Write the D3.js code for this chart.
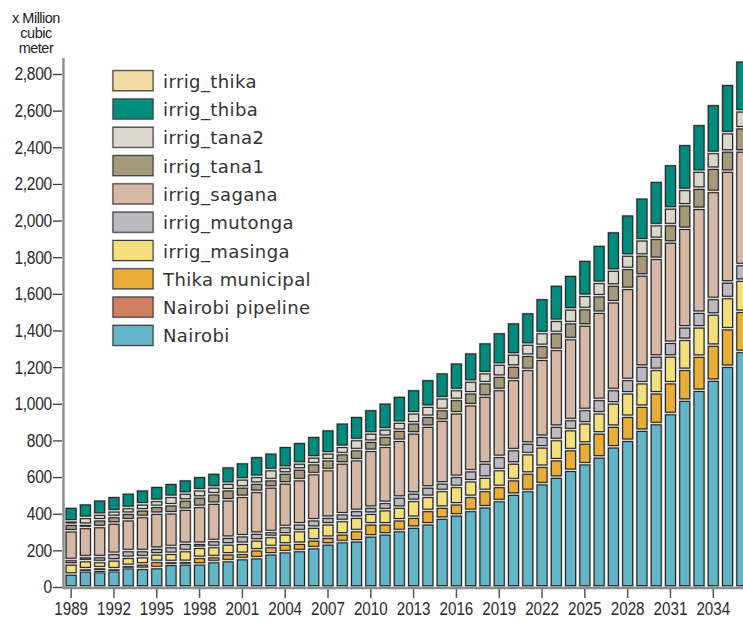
<!DOCTYPE html>
<html><head><meta charset="utf-8">
<script src="https://cdn.jsdelivr.net/npm/d3@7"></script>
<style>body{margin:0;background:#fff} svg{display:block}</style>
</head><body><svg id="c" width="743" height="627"></svg>
<script>
const years = d3.range(1989, 2037);
const nairobi = [71,88,84,89,106,102,106,124,126,126,139,144,155,160,181,193,199,215,235,248,252,279,290,308,327,345,376,394,418,438,472,507,527,564,600,637,673,710,765,801,856,892,947,1020,1074,1129,1205,1286];
const nairobiPipeline = [0,0,8,0,0,0,0,0,0,0,0,0,0,0,0,0,0,0,0,0,0,0,0,0,0,0,0,0,0,0,0,0,0,0,0,0,0,0,0,0,0,0,0,0,0,0,0,0];
const thikaMunicipal = [0,12,14,11,12,24,34,15,14,36,27,37,29,43,40,42,40,42,37,42,56,66,55,59,54,73,60,60,77,89,77,79,95,95,95,113,113,131,113,131,131,168,168,168,186,191,205,219];
const irrigMasinga = [55,44,33,48,44,40,41,45,59,55,55,54,55,54,55,55,69,70,73,73,73,58,77,69,92,77,91,95,85,73,92,91,106,106,110,109,110,110,127,128,128,128,146,164,160,170,170,170];
const irrigMutonga = [24,22,27,36,37,33,31,37,40,22,33,37,41,37,27,40,37,40,36,37,37,33,40,55,40,51,41,55,55,77,72,73,58,58,73,55,73,73,73,73,91,73,75,68,80,85,85,85];
const irrigSagana = [157,159,164,165,168,186,191,184,186,201,204,204,215,228,243,238,241,252,260,277,277,310,306,310,328,332,343,347,360,365,365,383,402,420,419,442,461,476,479,497,497,533,547,538,567,584,605,620];
const irrigTana1 = [36,18,37,36,36,36,37,44,50,51,51,55,51,45,40,54,58,54,54,51,55,50,55,55,55,54,58,73,65,73,73,73,77,76,92,87,90,90,91,109,109,109,95,128,110,127,110,127];
const irrigTana2 = [18,37,31,31,31,33,33,46,38,40,37,36,44,37,55,33,33,37,37,40,55,45,40,44,55,55,64,54,64,55,66,66,61,70,67,75,72,73,82,73,83,75,91,84,93,86,100,92];
const irrigThiba = [75,75,78,79,79,77,77,71,73,73,76,90,89,109,91,113,113,113,127,128,127,128,142,142,127,146,137,146,155,164,172,171,172,186,192,184,192,203,210,220,229,237,237,246,255,262,264,273];
const irrigThika = [0,0,0,0,0,0,0,0,0,0,0,0,0,0,0,0,0,0,0,0,0,0,0,0,0,0,0,0,0,0,0,0,0,0,0,0,0,0,0,0,0,0,0,0,0,0,0,0];

const seriesNames = ["Nairobi","Nairobi pipeline","Thika municipal","irrig_masinga","irrig_mutonga","irrig_sagana","irrig_tana1","irrig_tana2","irrig_thiba","irrig_thika"];
const seriesValues = [nairobi,nairobiPipeline,thikaMunicipal,irrigMasinga,irrigMutonga,irrigSagana,irrigTana1,irrigTana2,irrigThiba,irrigThika];
const seriesColors = ["#63b6c8","#d17f5f","#e9ae38","#f3e07c","#beb8c1","#d5b9a6","#a69a7c","#dcd7cc","#008c7d","#f3dba6"];
const yTickValues = [0,200,400,600,800,1000,1200,1400,1600,1800,2000,2200,2400,2600,2800];
const xTickYears = [1989,1992,1995,1998,2001,2004,2007,2010,2013,2016,2019,2022,2025,2028,2031,2034];
const yTitle = ["x Million","cubic","meter"];

const rows = years.map((yr, i) => {
  const r = {year: yr};
  seriesNames.forEach((k, j) => r[k] = seriesValues[j][i]);
  return r;
});
const stacked = d3.stack().keys(seriesNames)(rows);

const svg = d3.select("#c");
const x = d3.scaleBand().domain(years).range([64, 64 + 48 * 14.27]).paddingInner(0.3).paddingOuter(0.15);
const y = d3.scaleLinear().domain([0, 2800]).range([587, 74]);

// bars
const gap = 1.3;
const layers = svg.append("g").selectAll("g").data(stacked).join("g")
  .attr("fill", (d, i) => seriesColors[i]);
layers.selectAll("rect.halo").data(d => d.filter(s => s[1] - s[0] > 0)).join("rect")
  .attr("class", "halo")
  .attr("x", d => x(d.data.year))
  .attr("width", x.bandwidth())
  .attr("y", d => y(d[1]) + gap)
  .attr("height", d => Math.max(0.5, y(d[0]) - y(d[1]) - 2 * gap))
  .attr("fill", "none").attr("stroke", "#b5b5b5").attr("stroke-width", 2.2);
layers.selectAll("rect.seg").data(d => d.filter(s => s[1] - s[0] > 0)).join("rect")
  .attr("class", "seg")
  .attr("x", d => x(d.data.year))
  .attr("width", x.bandwidth())
  .attr("y", d => y(d[1]) + gap)
  .attr("height", d => Math.max(0.5, y(d[0]) - y(d[1]) - 2 * gap))
  .attr("stroke", "#262626").attr("stroke-width", 1.1);

const condensed = "'Liberation Sans',Arial,sans-serif";

// y axis
const yAxis = svg.append("g").attr("transform", "translate(63,0)")
  .call(d3.axisLeft(y).tickValues(yTickValues).tickFormat(d3.format(",")).tickSize(9).tickSizeOuter(0));
yAxis.select(".domain").remove();
yAxis.selectAll(".tick line").attr("stroke", "#3a3a3a").attr("stroke-width", 1.3).attr("transform", "translate(-1,0)");
yAxis.selectAll(".tick text").attr("x", 0)
  .attr("transform", "translate(-11,0) scale(0.84,1)")
  .attr("font-family", condensed)
  .attr("font-size", 18.5).attr("letter-spacing", -0.3).attr("fill", "#2a2a2a");
svg.append("line").attr("x1", 63.5).attr("x2", 63.5).attr("y1", 58).attr("y2", 588.5)
  .attr("stroke", "#8c8c8c").attr("stroke-width", 2.4);

// x axis
const xAxis = svg.append("g").attr("transform", "translate(0,588)")
  .call(d3.axisBottom(x).tickValues(xTickYears).tickSize(10).tickSizeOuter(0));
xAxis.select(".domain").remove();
xAxis.selectAll(".tick line").attr("stroke", "#555").attr("stroke-width", 1.5);
xAxis.selectAll(".tick text").attr("y", 14)
  .attr("transform", "scale(0.8,1)")
  .attr("font-family", condensed)
  .attr("font-size", 19).attr("fill", "#2a2a2a");
svg.append("line").attr("x1", 62.3).attr("x2", 743).attr("y1", 588).attr("y2", 588)
  .attr("stroke", "#8c8c8c").attr("stroke-width", 2.4);

// y title
svg.append("g").selectAll("text").data(yTitle).join("text")
  .attr("x", 36).attr("y", (d, i) => 23 + i * 15)
  .attr("text-anchor", "middle")
  .attr("font-family", condensed)
  .attr("font-size", 14.5).attr("letter-spacing", -0.5).attr("fill", "#222")
  .text(d => d);

// legend
const legendOrder = seriesNames.map((n, i) => i).reverse();
const lg = svg.append("g").selectAll("g").data(legendOrder).join("g")
  .attr("transform", (d, i) => `translate(113,${70.7 + i * 28.3})`);
lg.append("rect").attr("width", 40).attr("height", 20)
  .attr("fill", "none").attr("stroke", "#b5b5b5").attr("stroke-width", 2.2);
lg.append("rect").attr("width", 40).attr("height", 20)
  .attr("fill", d => seriesColors[d]).attr("stroke", "#3a3a3a").attr("stroke-width", 1);
lg.append("text").attr("x", 50).attr("y", 17)
  .attr("font-family", "'DejaVu Sans',Verdana,sans-serif")
  .attr("font-size", 18).attr("letter-spacing", 0.4).attr("fill", "#333")
  .text(d => seriesNames[d]);
</script></body></html>
